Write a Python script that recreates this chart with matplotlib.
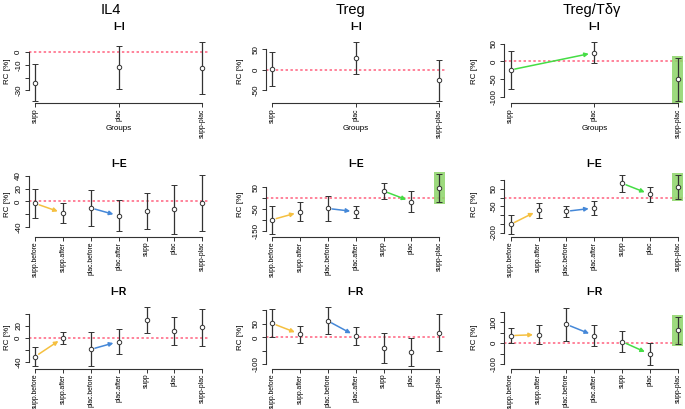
import matplotlib
matplotlib.use("Agg")
import matplotlib.pyplot as plt
from matplotlib.patches import Rectangle

plt.rcParams['font.family'] = ['Liberation Sans', 'DejaVu Sans']

# group labels
groups3 = ["supp", "plac", "supp-plac"]
groups7 = ["supp.before", "supp.after", "plac.before", "plac.after", "supp", "plac", "supp-plac"]

col_titles = ["IL4", "Treg", "Treg/T\u03b4\u03b3"]
row_titles = ["I\u2013I", "I\u2013E", "I\u2013R"]

# mean RC [%] and half width of the interval
il4_ii_mean = [-24, -12, -12.7]
il4_ii_ci = [14.3, 17, 20.3]
treg_ii_mean = [2, 28, -25]
treg_ii_ci = [41, 39, 50]
tdg_ii_mean = [-24, 25, -51]
tdg_ii_ci = [54, 29, 60]

il4_ie_mean = [-3, -18, -10, -22, -14.5, -12, -2]
il4_ie_ci = [23, 15, 28, 24, 28, 38, 43]
treg_ie_mean = [-97, -62, -46, -61, 33, -15, 47]
treg_ie_ci = [64, 43, 56, 28, 38, 49, 62]
tdg_ie_mean = [-153, -73, -78, -59, 83, 20, 62]
tdg_ie_ci = [56, 44, 30, 39, 50, 42, 68]

il4_ir_mean = [-31, 0, -19, -6, 30, 11.5, 17.5]
il4_ir_ci = [16.5, 10, 28.5, 21, 21, 23.5, 30.5]
treg_ir_mean = [52, 12, 61, 5.5, -39, -55, 17]
treg_ir_ci = [52, 31, 50, 34, 54, 52, 68]
tdg_ir_mean = [36, 41, 90, 36, 7, -53, 61]
tdg_ir_ci = [37, 44, 79, 49, 50, 53, 64]

# which panels show the supp -> plac difference as significant (green)
significant = [[False, False, True],
               [False, True, True],
               [False, False, True]]

panels = [
    [(il4_ii_mean, il4_ii_ci), (treg_ii_mean, treg_ii_ci), (tdg_ii_mean, tdg_ii_ci)],
    [(il4_ie_mean, il4_ie_ci), (treg_ie_mean, treg_ie_ci), (tdg_ie_mean, tdg_ie_ci)],
    [(il4_ir_mean, il4_ir_ci), (treg_ir_mean, treg_ir_ci), (tdg_ir_mean, tdg_ir_ci)],
]

# axis ranges, ticks and which tick labels R kept
ylims = [[(-39.8, 9.4), (-81, 73), (-118, 61)],
         [(-54, 45.5), (-173, 119), (-223, 148)],
         [(-51, 55), (-115, 120), (-122, 183)]]
yticks = [[[-30, -20, -10, 0], [-50, 0, 50], [-100, -50, 0, 50]],
          [[-40, -20, 0, 20, 40], [-150, -100, -50, 0, 50], [-200, -150, -100, -50, 0, 50, 100]],
          [[-40, -20, 0, 20, 40], [-100, -50, 0, 50, 100], [-100, -50, 0, 50, 100, 150]]]
ylabels_shown = [[[-30, -10, 0], [-50, 0, 50], [-100, -50, 0, 50]],
                 [[-40, 0, 20, 40], [-150, -50, 50], [-200, -50, 50]],
                 [[-40, 0, 20], [-100, 0, 50], [-100, 0, 100]]]

W, H = 685, 409
fig = plt.figure(figsize=(W / 100, H / 100), dpi=100)

col_left = [28.5, 265.5, 504]
ax_w = 180.5
row_top = [40, 172, 305]
row_bot = [103, 236.5, 368.5]
row_title_y = [27, 164, 292]
col_title_x = [111, 350, 592]
ylab_x = [8, 241, 475]

dark = "#333333"
yellow = "#f5c040"
blue = "#4588d8"
green = "#45dd45"
box_green = "#8cd468"

for c in range(3):
    fig.text(col_title_x[c] / W, 1 - 10 / H, col_titles[c], fontsize=10.5,
             ha="center", va="center")

for r in range(3):
    labels = groups3 if r == 0 else groups7
    n = len(labels)
    x = list(range(1, n + 1))
    for c in range(3):
        mean, ci = panels[r][c]
        left = col_left[c]
        ax = fig.add_axes([left / W, 1 - row_bot[r] / H, ax_w / W,
                           (row_bot[r] - row_top[r]) / H])
        ext = 0.04 * (n - 1)
        ax.set_xlim(1 - ext, n + ext)
        ax.set_ylim(*ylims[r][c])
        unit_px = ax_w / (n - 1 + 2 * ext)
        ylo, yhi = ylims[r][c]
        yunit_px = (row_bot[r] - row_top[r]) / (yhi - ylo)

        ax.axhline(0, color="#ff5070", lw=1.1, ls=(0, (1.6, 1.6)), alpha=0.9, zorder=1)

        if significant[r][c]:
            i = n - 1
            hw = 5.5 / unit_px
            pad = 2 / yunit_px
            lo = mean[i] - ci[i] - pad
            hi = mean[i] + ci[i] + pad
            ax.add_patch(Rectangle((x[i] - hw, lo), 2 * hw, hi - lo, facecolor=box_green,
                                   edgecolor="none", alpha=0.85, zorder=2, clip_on=False))

        ax.errorbar(x, mean, yerr=ci, fmt="o", ms=3.2, mfc="white", mec=dark, mew=0.7,
                    ecolor=dark, elinewidth=0.9, capsize=2.3, capthick=0.9, zorder=3,
                    clip_on=False)

        pairs = []
        if r > 0:
            pairs += [(0, 1, yellow), (2, 3, blue)]
        if significant[r][c]:
            pairs.append((n - 3, n - 2, green))
        for a, b, col in pairs:
            ax.annotate("", xy=(x[b], mean[b]), xytext=(x[a], mean[a]),
                        arrowprops=dict(arrowstyle="-|>", color=col, lw=1.1,
                                        shrinkA=3, shrinkB=4, mutation_scale=6),
                        zorder=2.5)

        for s in ["top", "right"]:
            ax.spines[s].set_visible(False)
        for s in ["left", "bottom"]:
            ax.spines[s].set_color(dark)
            ax.spines[s].set_linewidth(0.8)
        ax.spines["bottom"].set_bounds(1, n)
        ticks = yticks[r][c]
        ax.spines["left"].set_bounds(min(ticks), max(ticks))
        ax.set_yticks(ticks)
        ax.set_yticklabels([str(t) if t in ylabels_shown[r][c] else "" for t in ticks],
                           rotation=90, va="center")
        ax.set_xticks(x)
        ax.set_xticklabels(labels, rotation=90, va="top", ha="center")
        ax.tick_params(axis="both", length=3, width=0.7, color=dark, labelsize=5.8,
                       direction="out")
        ax.tick_params(axis="x", pad=0.8, labelsize=4.9)
        ax.tick_params(axis="y", pad=1.5)
        ax.patch.set_visible(False)

        cx = (left + ax_w / 2) / W
        fig.text(cx, 1 - row_title_y[r] / H, row_titles[r], fontsize=7.5,
                 fontweight="bold", ha="center", va="center")
        fig.text(ylab_x[c] / W, 1 - (row_top[r] + row_bot[r]) / 2 / H, "RC [%]",
                 fontsize=5.8, rotation=90, ha="center", va="center")
        if r == 0:
            fig.text(cx, 1 - 129 / H, "Groups", fontsize=5.8, ha="center", va="center")

fig.savefig("out.png", dpi=100)
